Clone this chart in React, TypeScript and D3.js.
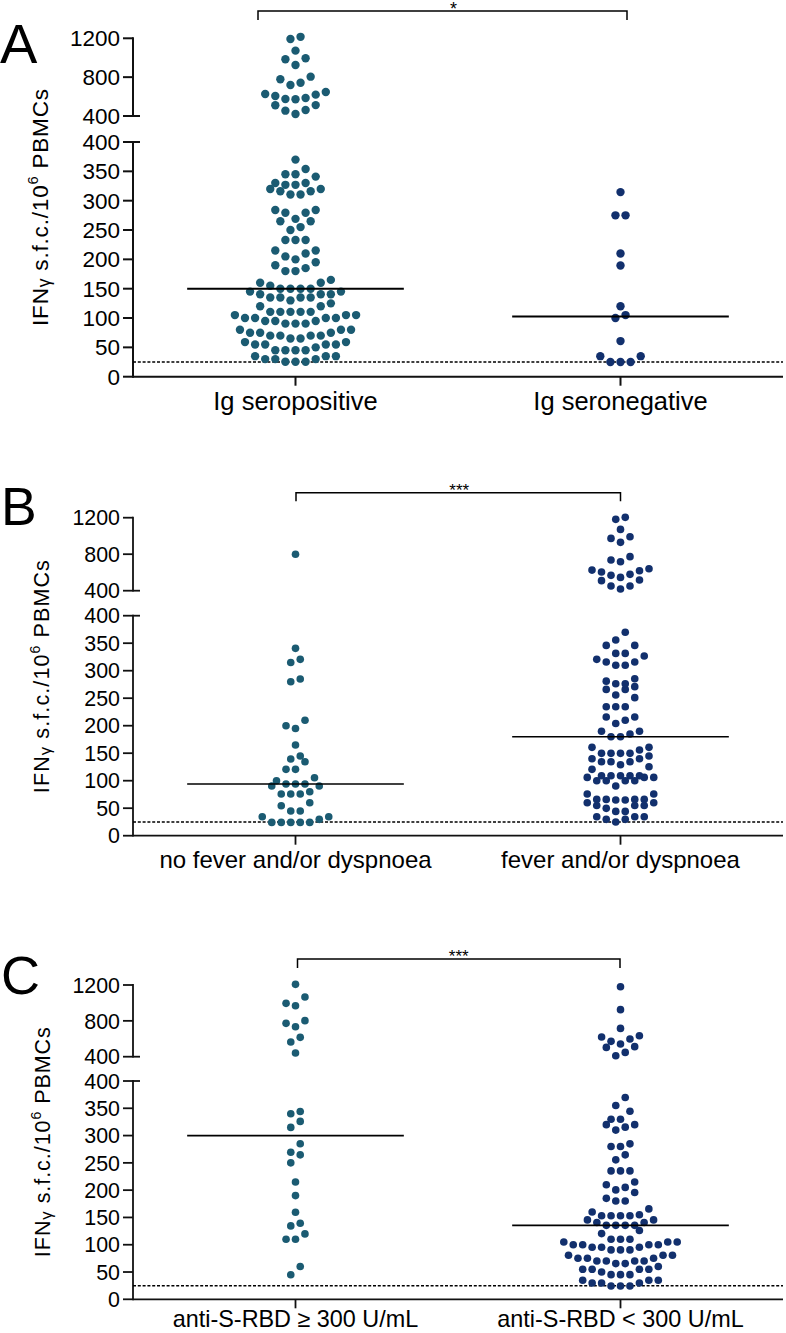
import React from "react";
import * as d3 from "d3";

// ---- Panel A: Ig serostatus ----
const categoriesA = ["Ig seropositive", "Ig seronegative"];
const igSeropositive = [
  25.5, 25.5, 25.5, 30, 30, 30, 35, 35, 35,
  45, 45, 45, 45, 50, 55, 55, 55, 55, 59, 59,
  65, 65, 70, 70, 70, 70, 75, 75, 75, 80, 80, 80,
  90.5, 90.5, 90.5, 95, 95, 95, 100, 100, 100, 100, 105, 105, 105,
  110.5, 110.5, 110.5, 110.5, 110.5, 120, 120, 125,
  130, 135, 135, 135, 135, 140.5, 140.5, 140.5, 145, 145,
  150, 150, 150, 150, 155, 160, 160, 165,
  180, 180, 185, 190, 195,
  200, 205, 210, 215, 215,
  233, 233, 233,
  250, 255, 265, 265,
  269, 279.5, 279.5, 284, 284,
  310.5, 310.5, 316, 316, 320, 320,
  327, 327, 330, 330, 341,
  345, 345, 354, 370,
  421, 455, 462, 510, 512,
  572, 575, 585, 606, 620, 627, 647,
  719, 743, 778, 805,
  925, 984, 994, 1073, 1193, 1215,
];
const igSeronegative = [25, 25, 25, 35, 35, 60.7, 100, 105, 120, 189.5, 210, 275, 275, 314.6];

// ---- Panel B: symptoms ----
const categoriesB = ["no fever and/or dyspnoea", "fever and/or dyspnoea"];
const noFever = [
  24.2, 24.2, 24.2, 24.2, 24.2, 29.7, 34.5, 34.5,
  44.8, 44.8, 54.5, 60,
  75.8, 75.8, 75.8, 80, 90.3, 90.3,
  94, 94, 94, 100, 105.5,
  120.6, 120.6, 134.5, 139.4, 144.8, 164.8,
  195, 200, 210, 280, 284.8, 315, 320.6, 340.6,
  800,
];
const fever = [
  24.8, 29.7, 29.7, 34.5, 34.5, 34.5,
  44.2, 44.2, 49.7, 55, 55, 55, 60, 60,
  64.8, 64.8, 66, 66, 66, 66, 75.8, 75.8,
  90.3, 100, 100, 100, 100, 106, 106, 106,
  109, 109, 109, 109, 109, 120.6, 125.5,
  129, 134.5, 134.5, 134.5, 140, 140, 144.8,
  149.7, 149.7, 149.7, 149.7, 155.8, 160.6, 160.6,
  180, 180, 184.8, 190, 190,
  204, 210, 215.8, 215.8,
  234.5, 234.5, 234.5, 251,
  255.8, 266, 266, 271,
  276.4, 276.4, 281, 285.5,
  310, 310, 315.8, 315.8, 320.6, 326.7,
  331.5, 331.5, 346, 346,
  355.8, 370,
  418, 451, 451, 510, 517,
  546, 568, 579, 605, 619, 626, 641,
  718, 736, 773,
  930, 973, 992, 1072, 1182, 1204,
];

// ---- Panel C: anti-S-RBD titre ----
const categoriesC = ["anti-S-RBD \u2265 300 U/mL", "anti-S-RBD < 300 U/mL"];
const rbdHigh = [
  45, 60, 110, 110, 119.8, 134.5, 139.4, 159.5, 190, 215,
  250, 264.7, 269.5, 285, 315, 326, 340, 344,
  441, 564, 616, 735, 772, 802, 969, 995, 1066, 1207,
];
const rbdLow = [
  24.5, 24.5, 24.5, 30, 30, 30, 34.8, 34.8, 34.8,
  45.2, 45.2, 45.2, 50, 55, 55, 55, 55, 60,
  65.4, 65.4, 70.3, 70.3, 70.3, 70.3, 75.2, 75.2, 75.2, 80.7, 80.7, 80.7,
  90.5, 90.5, 90.5, 95.4, 95.4, 95.4, 100, 100, 100, 100, 105, 105, 105,
  110, 110, 110, 120.4, 126,
  135.5, 135.5, 135.5, 135.5, 140.6, 140.6, 145.5, 145.5,
  153, 153, 153, 153, 155, 160, 165.6,
  180, 180, 185, 195.6,
  200.5, 205, 210, 215,
  235.3, 235.3, 235.3,
  255.5, 264.7,
  280, 280, 284.8,
  310, 315.4, 320, 320,
  330, 330, 344.7,
  355, 369.8,
  411, 448, 504, 512, 541, 571, 597, 619, 634, 716, 925, 1181,
];

// ---- shared axis values ----
const lowerTicks = [0, 50, 100, 150, 200, 250, 300, 350, 400];
const upperTicks = [400, 800, 1200];
const axisBreak = 400;
const upperMax = 1200;
const detectionLimit = 25;
const panelLetters = ["A", "B", "C"];
const significance = ["*", "***", "***"];
const groupColors = ["#1b5b72", "#12306d"];

const panelData = [
  { categories: categoriesA, series: [igSeropositive, igSeronegative] },
  { categories: categoriesB, series: [noFever, fever] },
  { categories: categoriesC, series: [rbdHigh, rbdLow] },
];

// ---- layout ----
const WIDTH = 786;
const HEIGHT = 1333;
const AXIS_X = 133;
const AXIS_RIGHT = 783;
const ROW_H = 9.5;

type Layout = {
  letterX: number; letterY: number; letterSize: number;
  yTop: number; yUpperBase: number; yLowerTop: number; yZero: number;
  tickFont: number; catFont: number; catDy: number; titleFont: number; titleLen: number; titleX: number;
  spacing: number; r: number; axisW: number; medianW: number;
  bracketY: number; bracketDrop: number; bracketDx: [number, number];
  starDx: number; starFont: number; starDy: number;
};

const layouts: Layout[] = [
  {
    letterX: 0, letterY: 63, letterSize: 56,
    yTop: 38.3, yUpperBase: 116, yLowerTop: 142, yZero: 376.7,
    tickFont: 22.5, catFont: 25.5, catDy: 33, titleFont: 22.5, titleLen: 237, titleX: 47.5,
    spacing: 10.1, r: 4.2, axisW: 2, medianW: 2,
    bracketY: 11, bracketDrop: 9, bracketDx: [-37.5, 6.5], starDx: 11, starFont: 18, starDy: 4,
  },
  {
    letterX: 1, letterY: 525, letterSize: 53.5,
    yTop: 517.7, yUpperBase: 590.7, yLowerTop: 615.7, yZero: 835.7,
    tickFont: 21.4, catFont: 24, catDy: 32, titleFont: 21.5, titleLen: 233, titleX: 49,
    spacing: 9.5, r: 3.8, axisW: 1.8, medianW: 1.6,
    bracketY: 492.7, bracketDrop: 8.5, bracketDx: [0.5, 0], starDx: 1, starFont: 17, starDy: 3,
  },
  {
    letterX: 1, letterY: 994, letterSize: 54,
    yTop: 985, yUpperBase: 1056.7, yLowerTop: 1081, yZero: 1299.3,
    tickFont: 21.4, catFont: 23.4, catDy: 27.5, titleFont: 21.5, titleLen: 230, titleX: 50,
    spacing: 9.45, r: 3.8, axisW: 1.8, medianW: 1.6,
    bracketY: 959, bracketDrop: 9, bracketDx: [2, -0.5], starDx: 0, starFont: 17, starDy: 3,
  },
];

type Dot = { v: number; y: number; dx: number };

// Scatter-dot layout: points close in value share a row, which is filled
// from the centre outwards in ascending order.
function swarm(values: number[], yOf: (v: number) => number, spacing: number, rowH: number): Dot[] {
  const pts = values.map((v) => ({ v, y: yOf(v) })).sort((a, b) => a.v - b.v);
  const out: Dot[] = [];
  let row: { v: number; y: number }[] = [];
  let startY = 0;
  const flush = () => {
    const n = row.length;
    row.forEach((p, i) => {
      let slot: number;
      if (n % 2 === 1) slot = i === 0 ? 0 : (i % 2 === 1 ? -1 : 1) * Math.ceil(i / 2);
      else slot = (i % 2 === 0 ? -1 : 1) * (Math.floor(i / 2) + 0.5);
      out.push({ ...p, dx: slot * spacing });
    });
    row = [];
  };
  for (const p of pts) {
    if (row.length && startY - p.y > rowH) flush();
    if (!row.length) startY = p.y;
    row.push(p);
  }
  flush();
  return out;
}

function Panel({ idx }: { idx: number }) {
  const L = layouts[idx];
  const { categories, series } = panelData[idx];
  const x = d3.scalePoint<string>().domain(categories).range([AXIS_X, AXIS_RIGHT]).padding(0.5);
  const yUpper = d3.scaleLinear().domain([axisBreak, upperMax]).range([L.yUpperBase, L.yTop]);
  const yLower = d3.scaleLinear().domain([0, axisBreak]).range([L.yZero, L.yLowerTop]);
  const yOf = (v: number) => (v > axisBreak ? yUpper(v) : yLower(v));
  const halfMedian = x.step() / 3;
  const ink = "#111";

  const bx0 = (x(categories[0]) as number) + L.bracketDx[0];
  const bx1 = (x(categories[1]) as number) + L.bracketDx[1];

  return (
    <g>
      {/* panel letter */}
      <text x={L.letterX} y={L.letterY} fontSize={L.letterSize} fill="#000">
        {panelLetters[idx]}
      </text>

      {/* y-axis title */}
      <text
        transform={`translate(${L.titleX},${(L.yTop + L.yZero) / 2}) rotate(-90)`}
        textAnchor="middle"
        fontSize={L.titleFont}
        textLength={L.titleLen}
        lengthAdjust="spacing"
        fill="#000"
      >
        IFN
        <tspan fontSize={L.titleFont * 0.78} dy={2}>γ</tspan>
        <tspan dy={-2}> s.f.c./10</tspan>
        <tspan fontSize={L.titleFont * 0.65} dy={-L.titleFont * 0.42}>6</tspan>
        <tspan dy={L.titleFont * 0.42}> PBMCs</tspan>
      </text>

      {/* broken y-axis: upper segment */}
      <line x1={AXIS_X} x2={AXIS_X} y1={yUpper(upperMax)} y2={yUpper(axisBreak)} stroke={ink} strokeWidth={L.axisW} strokeLinecap="square" />
      {upperTicks.map((t) => (
        <g key={`u${t}`}>
          <line x1={AXIS_X - 10} x2={t === axisBreak ? AXIS_X + 7 : AXIS_X} y1={yUpper(t)} y2={yUpper(t)} stroke={ink} strokeWidth={L.axisW} />
          <text x={120} y={yUpper(t)} dy="0.36em" textAnchor="end" fontSize={L.tickFont} fill="#000">{t}</text>
        </g>
      ))}

      {/* broken y-axis: lower segment */}
      <line x1={AXIS_X} x2={AXIS_X} y1={yLower(axisBreak)} y2={yLower(0)} stroke={ink} strokeWidth={L.axisW} strokeLinecap="square" />
      {lowerTicks.map((t) => (
        <g key={`l${t}`}>
          <line x1={AXIS_X - 10} x2={t === axisBreak ? AXIS_X + 7 : AXIS_X} y1={yLower(t)} y2={yLower(t)} stroke={ink} strokeWidth={L.axisW} />
          <text x={120} y={yLower(t)} dy="0.36em" textAnchor="end" fontSize={L.tickFont} fill="#000">{t}</text>
        </g>
      ))}

      {/* x-axis */}
      <line x1={AXIS_X} x2={AXIS_RIGHT} y1={yLower(0)} y2={yLower(0)} stroke={ink} strokeWidth={L.axisW} />
      {categories.map((c) => (
        <g key={c}>
          <line x1={x(c)} x2={x(c)} y1={yLower(0)} y2={yLower(0) + 9} stroke={ink} strokeWidth={L.axisW} />
          <text x={x(c)} y={yLower(0) + L.catDy} textAnchor="middle" fontSize={L.catFont} fill="#000">{c}</text>
        </g>
      ))}

      {/* detection limit */}
      <line x1={AXIS_X} x2={AXIS_RIGHT} y1={yLower(detectionLimit)} y2={yLower(detectionLimit)} stroke="#000" strokeWidth={1.5} strokeDasharray="3 1.8" />

      {/* dots */}
      {series.map((vals, gi) => {
        const cx = x(categories[gi]) as number;
        return (
          <g key={gi} fill={groupColors[gi]}>
            {swarm(vals, yOf, L.spacing, ROW_H).map((d, k) => (
              <circle key={k} cx={cx + d.dx} cy={d.y} r={L.r} />
            ))}
          </g>
        );
      })}

      {/* medians */}
      {series.map((vals, gi) => {
        const cx = x(categories[gi]) as number;
        const m = d3.median(vals) as number;
        return (
          <line key={`m${gi}`} x1={cx - halfMedian} x2={cx + halfMedian} y1={yOf(m)} y2={yOf(m)} stroke="#000" strokeWidth={L.medianW} />
        );
      })}

      {/* significance bracket */}
      <path
        d={`M${bx0},${L.bracketY + L.bracketDrop}V${L.bracketY}H${bx1}V${L.bracketY + L.bracketDrop}`}
        fill="none"
        stroke="#000"
        strokeWidth={1.5}
      />
      <text x={(bx0 + bx1) / 2 + L.starDx} y={L.bracketY + L.starDy} textAnchor="middle" fontSize={L.starFont} fill="#000">
        {significance[idx]}
      </text>
    </g>
  );
}

export default function App() {
  return (
    <svg
      width={WIDTH}
      height={HEIGHT}
      viewBox={`0 0 ${WIDTH} ${HEIGHT}`}
      style={{ position: "absolute", left: 0, top: 0, display: "block" }}
      fontFamily="'Liberation Sans', Arial, Helvetica, sans-serif"
    >
      <rect width={WIDTH} height={HEIGHT} fill="#fff" />
      {layouts.map((_, i) => (
        <Panel key={i} idx={i} />
      ))}
    </svg>
  );
}
